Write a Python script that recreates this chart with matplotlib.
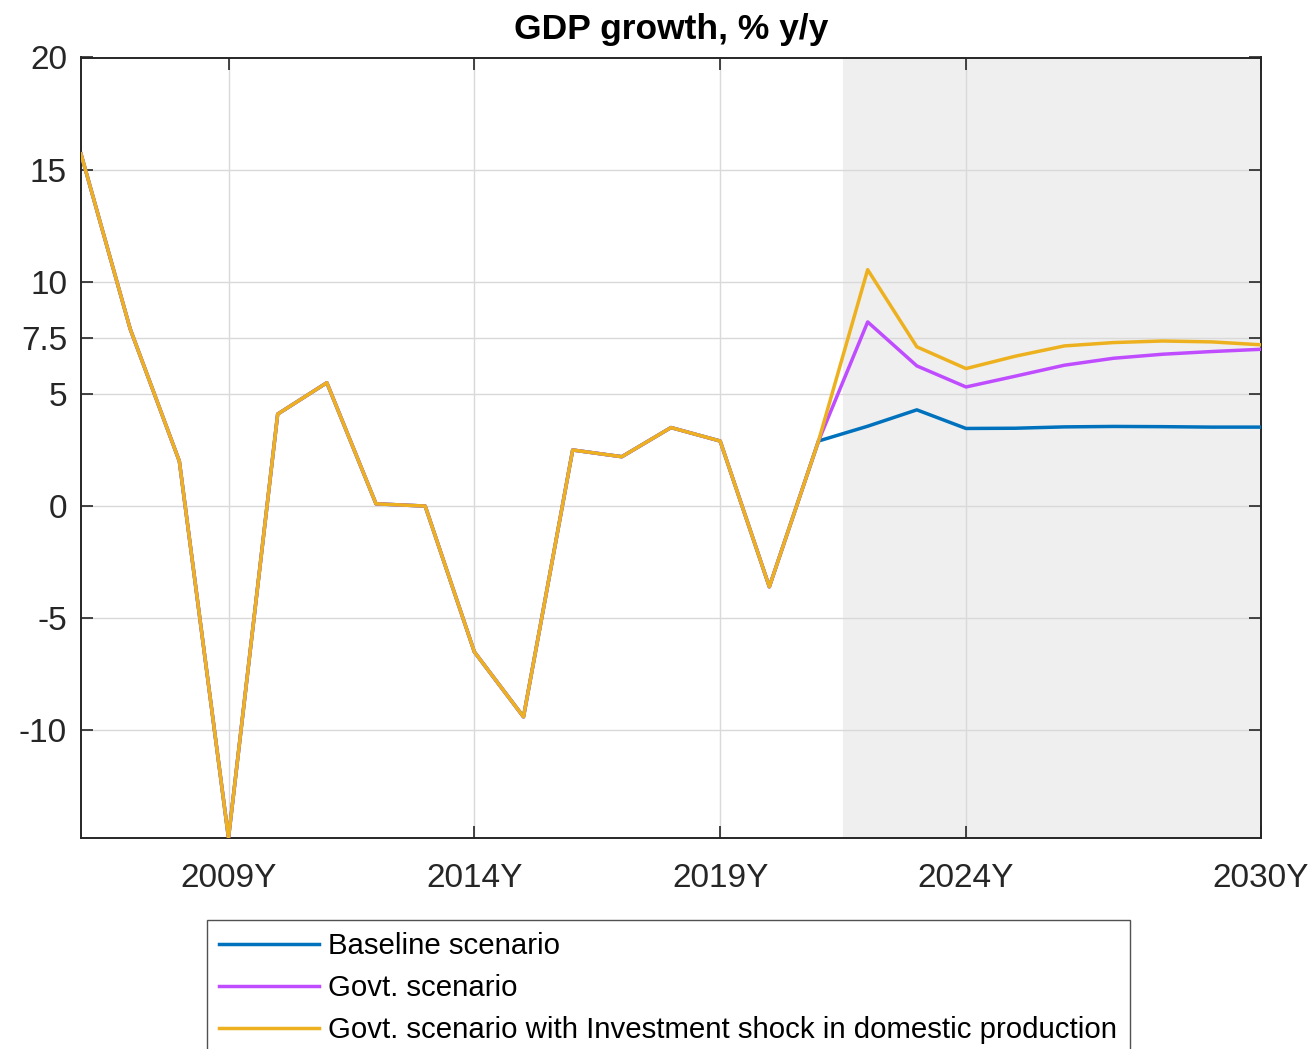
import matplotlib
matplotlib.use("Agg")
import matplotlib.pyplot as plt

years = list(range(2006, 2031))
history = [15.7, 7.9, 2.0, -14.8, 4.1, 5.5, 0.1, 0.0, -6.5, -9.4,
           2.5, 2.2, 3.5, 2.9, -3.6, 2.9]
baseline_fc = [3.56, 4.29, 3.46, 3.47, 3.53, 3.55, 3.54, 3.52, 3.52]
govt_fc = [8.21, 6.25, 5.31, 5.79, 6.28, 6.59, 6.77, 6.89, 6.99]
invest_fc = [10.54, 7.10, 6.13, 6.68, 7.14, 7.29, 7.36, 7.32, 7.19]

baseline = history + baseline_fc
govt = history + govt_fc
invest = history + invest_fc

labels = ["Baseline scenario", "Govt. scenario",
          "Govt. scenario with Investment shock in domestic production"]
colors = ["#0072BD", "#BF4DFF", "#EDB120"]

xticks = [2009, 2014, 2019, 2024, 2030]
xticklabels = ["2009Y", "2014Y", "2019Y", "2024Y", "2030Y"]
yticks = [-10, -5, 0, 5, 7.5, 10, 15, 20]
yticklabels = ["-10", "-5", "0", "5", "7.5", "10", "15", "20"]
shade_start, shade_end = 2021.5, 2030

plt.rcParams['font.family'] = ['Liberation Sans', 'DejaVu Sans']
fig = plt.figure(figsize=(13.15, 10.49), dpi=100)
ax = fig.add_axes([81/1315, 1-838/1049, (1261-81)/1315, (838-57.5)/1049])

ax.axvspan(shade_start, shade_end, color="#EFEFEF", zorder=0, lw=0)
ax.set_axisbelow(True)
ax.grid(True, color="#D9D9D9", lw=1.0)

for series, lab, c in zip([baseline, govt, invest], labels, colors):
    ax.plot(years, series, color=c, lw=2.5, label=lab, zorder=3, clip_on=True)

ax.set_xlim(2006, 2030)
ax.set_ylim(-14.8, 20)
ax.set_xticks(xticks)
ax.set_xticklabels(xticklabels)
ax.set_yticks(yticks)
ax.set_yticklabels(yticklabels)
ax.tick_params(direction='in', length=8.5, width=1.2, top=True, right=True,
               labelsize=24, colors="#262626")
ax.tick_params(axis='x', pad=18)
ax.tick_params(axis='y', pad=10)
for s in ax.spines.values():
    s.set_color("#262626")
    s.set_linewidth(1.4)

ax.set_title("GDP growth, % y/y", fontsize=25.5, fontweight='bold', pad=13)

leg = fig.legend(loc='upper left', bbox_to_anchor=(207/1315, 1-920/1049),
                 fontsize=21.2, frameon=True, fancybox=False, edgecolor="#262626",
                 handlelength=3.4, labelspacing=0.47, borderpad=0.42,
                 handletextpad=0.3, borderaxespad=0)
leg.get_frame().set_linewidth(1.0)

fig.savefig("out.png", dpi=100)
